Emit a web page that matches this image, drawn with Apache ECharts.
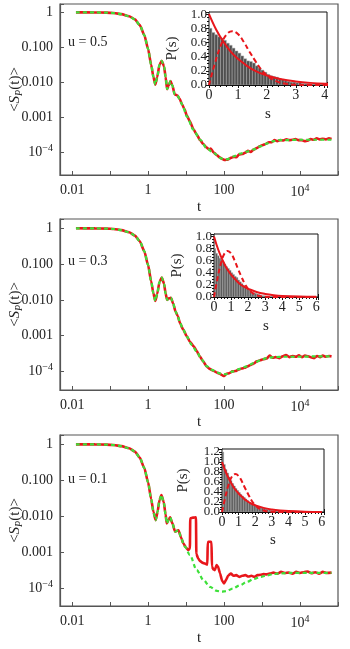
<!DOCTYPE html>
<html>
<head>
<meta charset="utf-8">
<script src="https://cdn.jsdelivr.net/npm/echarts@6/dist/echarts.min.js"></script>
<style>
  html, body { margin: 0; padding: 0; background: #fff; }
  #chart { width: 350px; height: 649px; }
</style>
</head>
<body>
<div id="chart"></div>
<script>
// readings are [log10 t, log10 <S_P(t)>]
const green1 = [[-1.9,0],[-1.4,-0.002],[-1.1,-0.008],[-0.9,-0.02],[-0.7,-0.05],[-0.5,-0.11],[-0.35,-0.2],[-0.22,-0.36],[-0.1,-0.65],[0,-1.05],[0.08,-1.5],[0.14,-1.85],[0.19,-2.07],[0.24,-1.85],[0.3,-1.5],[0.36,-1.39],[0.42,-1.55],[0.46,-1.85],[0.5,-2.2],[0.54,-2.1],[0.59,-1.97],[0.64,-2.1],[0.7,-2.35],[0.77,-2.38],[0.83,-2.48],[0.9,-2.65],[1.02,-2.98],[1.19,-3.36],[1.37,-3.65],[1.54,-3.89],[1.72,-4.03],[1.94,-4.19],[2.07,-4.21],[2.25,-4.13],[2.42,-4.05],[2.6,-3.99],[2.77,-3.93],[2.95,-3.84],[3.12,-3.76],[3.3,-3.69],[3.45,-3.66],[3.7,-3.66],[4.0,-3.65],[4.4,-3.65],[4.83,-3.65]];
const red1 = [[-1.9,0],[-1.4,-0.002],[-1.1,-0.008],[-0.9,-0.02],[-0.7,-0.05],[-0.5,-0.11],[-0.35,-0.2],[-0.22,-0.36],[-0.1,-0.65],[0,-1.05],[0.08,-1.5],[0.14,-1.85],[0.19,-2.07],[0.24,-1.85],[0.3,-1.5],[0.36,-1.39],[0.42,-1.55],[0.46,-1.85],[0.5,-2.2],[0.54,-2.1],[0.59,-1.97],[0.64,-2.1],[0.7,-2.35],[0.77,-2.38],[0.83,-2.48],[0.9,-2.65],[0.96,-2.78],[1.02,-2.96],[1.1,-3.12],[1.19,-3.34],[1.28,-3.5],[1.37,-3.66],[1.45,-3.77],[1.54,-3.87],[1.6,-3.93],[1.65,-3.9],[1.72,-4.01],[1.8,-4.08],[1.88,-4.15],[1.95,-4.2],[2.02,-4.23],[2.1,-4.22],[2.18,-4.17],[2.25,-4.14],[2.32,-4.15],[2.4,-4.07],[2.48,-4.06],[2.56,-4.02],[2.63,-3.97],[2.7,-4.0],[2.78,-3.93],[2.86,-3.89],[2.94,-3.84],[3.02,-3.8],[3.1,-3.77],[3.18,-3.72],[3.26,-3.72],[3.33,-3.66],[3.4,-3.69],[3.48,-3.66],[3.56,-3.67],[3.64,-3.64],[3.72,-3.66],[3.8,-3.65],[3.88,-3.63],[3.96,-3.66],[4.04,-3.66],[4.12,-3.69],[4.2,-3.68],[4.28,-3.63],[4.36,-3.65],[4.44,-3.61],[4.52,-3.64],[4.6,-3.62],[4.68,-3.64],[4.76,-3.61],[4.83,-3.63]];

const green2 = [[-1.9,0],[-1.4,-0.002],[-1.1,-0.008],[-0.9,-0.02],[-0.7,-0.05],[-0.5,-0.11],[-0.35,-0.2],[-0.22,-0.36],[-0.1,-0.64],[0,-1.03],[0.08,-1.48],[0.14,-1.82],[0.19,-2.03],[0.24,-1.83],[0.3,-1.5],[0.36,-1.38],[0.42,-1.55],[0.46,-1.82],[0.5,-2.0],[0.55,-1.96],[0.6,-1.94],[0.66,-2.1],[0.72,-2.32],[0.78,-2.45],[0.84,-2.65],[0.92,-2.82],[1.02,-3.03],[1.15,-3.26],[1.28,-3.45],[1.41,-3.67],[1.54,-3.85],[1.68,-3.96],[1.81,-4.03],[1.94,-4.07],[2.05,-4.08],[2.24,-4.0],[2.42,-3.93],[2.6,-3.86],[2.78,-3.77],[2.95,-3.69],[3.12,-3.63],[3.3,-3.6],[3.6,-3.59],[4.0,-3.59],[4.4,-3.58],[4.83,-3.58]];
const red2 = [[-1.9,0],[-1.4,-0.002],[-1.1,-0.008],[-0.9,-0.02],[-0.7,-0.05],[-0.5,-0.11],[-0.35,-0.2],[-0.22,-0.36],[-0.1,-0.64],[0,-1.03],[0.08,-1.48],[0.14,-1.82],[0.19,-2.03],[0.24,-1.83],[0.3,-1.5],[0.36,-1.38],[0.42,-1.55],[0.46,-1.82],[0.5,-2.0],[0.55,-1.96],[0.6,-1.94],[0.66,-2.1],[0.72,-2.32],[0.78,-2.45],[0.84,-2.65],[0.92,-2.82],[1.02,-3.02],[1.1,-3.17],[1.2,-3.3],[1.28,-3.43],[1.36,-3.58],[1.45,-3.72],[1.54,-3.86],[1.62,-3.93],[1.72,-3.98],[1.8,-4.03],[1.88,-4.06],[1.94,-4.1],[2.0,-4.13],[2.06,-4.07],[2.14,-4.05],[2.22,-4.0],[2.3,-3.99],[2.38,-3.95],[2.46,-3.92],[2.54,-3.9],[2.62,-3.86],[2.7,-3.82],[2.78,-3.78],[2.86,-3.72],[2.95,-3.69],[3.03,-3.66],[3.12,-3.64],[3.2,-3.56],[3.28,-3.62],[3.36,-3.6],[3.46,-3.63],[3.54,-3.58],[3.63,-3.54],[3.72,-3.6],[3.8,-3.57],[3.89,-3.59],[3.97,-3.55],[4.05,-3.6],[4.13,-3.56],[4.22,-3.58],[4.3,-3.61],[4.37,-3.63],[4.45,-3.57],[4.53,-3.6],[4.6,-3.56],[4.68,-3.59],[4.76,-3.57],[4.83,-3.58]];

const green3 = [[-1.9,0],[-1.4,-0.002],[-1.1,-0.008],[-0.9,-0.02],[-0.7,-0.05],[-0.5,-0.11],[-0.35,-0.2],[-0.22,-0.37],[-0.1,-0.66],[0,-1.06],[0.08,-1.52],[0.14,-1.88],[0.2,-2.11],[0.25,-1.87],[0.3,-1.55],[0.35,-1.41],[0.41,-1.6],[0.46,-1.95],[0.49,-2.2],[0.54,-2.1],[0.58,-2.03],[0.64,-2.2],[0.71,-2.43],[0.8,-2.39],[0.87,-2.6],[0.93,-2.76],[0.97,-2.85],[1.1,-3.08],[1.28,-3.5],[1.46,-3.78],[1.63,-3.97],[1.81,-4.08],[1.94,-4.1],[2.05,-4.09],[2.24,-4.01],[2.42,-3.92],[2.6,-3.83],[2.78,-3.75],[2.95,-3.69],[3.12,-3.65],[3.3,-3.61],[3.5,-3.59],[3.74,-3.58],[4.2,-3.58],[4.83,-3.58]];
const red3 = [[-1.9,0],[-1.4,-0.002],[-1.1,-0.008],[-0.9,-0.02],[-0.7,-0.05],[-0.5,-0.11],[-0.35,-0.2],[-0.22,-0.37],[-0.1,-0.66],[0,-1.06],[0.08,-1.52],[0.14,-1.88],[0.2,-2.11],[0.25,-1.87],[0.3,-1.55],[0.35,-1.41],[0.41,-1.6],[0.46,-1.95],[0.49,-2.2],[0.54,-2.1],[0.58,-2.03],[0.64,-2.2],[0.71,-2.43],[0.8,-2.39],[0.87,-2.6],[0.93,-2.76],[1.0,-2.88],[1.06,-2.94],[1.1,-2.9],[1.11,-2.06],[1.18,-2.04],[1.26,-2.03],[1.27,-3.05],[1.32,-3.18],[1.37,-3.25],[1.44,-3.3],[1.5,-3.32],[1.56,-3.35],[1.57,-2.72],[1.62,-2.71],[1.67,-2.72],[1.68,-3.4],[1.72,-3.48],[1.76,-3.5],[1.8,-3.36],[1.84,-3.4],[1.89,-3.58],[1.95,-3.8],[2.0,-3.87],[2.05,-3.78],[2.11,-3.65],[2.18,-3.6],[2.25,-3.66],[2.32,-3.64],[2.4,-3.69],[2.48,-3.66],[2.56,-3.64],[2.64,-3.68],[2.72,-3.66],[2.8,-3.69],[2.88,-3.64],[2.96,-3.63],[3.04,-3.61],[3.12,-3.62],[3.2,-3.6],[3.3,-3.57],[3.4,-3.6],[3.5,-3.55],[3.6,-3.58],[3.7,-3.57],[3.8,-3.6],[3.9,-3.55],[4.0,-3.58],[4.1,-3.56],[4.2,-3.54],[4.3,-3.59],[4.4,-3.56],[4.5,-3.6],[4.6,-3.55],[4.7,-3.58],[4.83,-3.57]];

// inset histograms, bins of width 0.1 starting at s = 0
const BIN = 0.1;
const hist1 = [0.80,0.74,0.71,0.68,0.66,0.63,0.59,0.56,0.52,0.48,0.45,0.41,0.37,0.34,0.33,0.31,0.27,0.24,0.21,0.18,0.15,0.13,0.12,0.11,0.09,0.08,0.06,0.05,0.04,0.04,0.03,0.03,0.02,0.02,0.02,0.01,0.01,0.01,0.005,0.005];
const hist2 = [0.80,0.72,0.68,0.64,0.61,0.58,0.54,0.50,0.47,0.44,0.40,0.37,0.34,0.32,0.28,0.25,0.22,0.19,0.16,0.14,0.12,0.10,0.08,0.07,0.06,0.05,0.04,0.03,0.02,0.02,0.01,0.01,0.01,0.005,0.005];
const hist3 = [1.20,0.95,0.85,0.78,0.70,0.63,0.57,0.52,0.47,0.43,0.39,0.35,0.32,0.29,0.26,0.23,0.20,0.18,0.16,0.14,0.12,0.11,0.10,0.09,0.08,0.07,0.06,0.05,0.04,0.03,0.03,0.02,0.02,0.01,0.01];

// reference curves in the insets, read at a few s values
const poisson = [[0,1.0],[0.25,0.78],[0.5,0.61],[0.75,0.47],[1,0.37],[1.25,0.29],[1.5,0.22],[1.75,0.17],[2,0.135],[2.5,0.082],[3,0.05],[3.5,0.03],[4,0.018],[5,0.007],[6,0.0025]];
const wigner = [[0,0],[0.2,0.3],[0.4,0.55],[0.6,0.71],[0.8,0.76],[1.0,0.72],[1.2,0.61],[1.4,0.47],[1.6,0.34],[1.8,0.22],[2.0,0.135],[2.2,0.078],[2.4,0.041],[2.6,0.02],[2.8,0.009],[3.0,0.004],[3.5,0.0003],[4,0],[5,0],[6,0]];

const uLabels = ['u = 0.5', 'u = 0.3', 'u = 0.1'];
const xTickText = { '-2': '0.01', '0': '1', '2': '100', '4': '10{sup|4}' };
const yTickText = { '0': '1', '-1': '0.100', '-2': '0.010', '-3': '0.001', '-4': '10{sup|\u22124}' };

const FONT = 'Liberation Serif';
const RED = '#e8161b';
const GREEN = '#3ee03a';
const FRAME = '#555';

const chart = echarts.init(document.getElementById('chart'), null, { renderer: 'canvas' });

const mainGrids = [
  { left: 60, top: 4, width: 278, height: 171, yMin: -4.66, yMax: 0.24 },
  { left: 60, top: 219, width: 278, height: 171, yMin: -4.52, yMax: 0.26 },
  { left: 60, top: 435, width: 278, height: 171, yMin: -4.5, yMax: 0.26 }
];
const insetGrids = [
  { left: 209, top: 12, width: 118, height: 73, xMax: 4.08, yMax: 1.03, gap: 29, sGap: 22 },
  { left: 214, top: 234, width: 104, height: 63, xMax: 6.1, yMax: 1.04, gap: 29, sGap: 22 },
  { left: 222, top: 449, width: 102, height: 63, xMax: 6.14, yMax: 1.26, gap: 31, sGap: 21 }
];

const pow = p => [Math.pow(10, p[0]), Math.pow(10, p[1])];
const isExp = v => {
  const l = Math.log10(v);
  return Math.abs(l - Math.round(l)) < 1e-6 ? String(Math.round(l)) : null;
};
const supRich = {
  sup: { fontFamily: FONT, fontSize: 10, color: '#222', padding: [0, 0, 8, 0] }
};

const grid = [], xAxis = [], yAxis = [], series = [], graphic = [];

mainGrids.forEach((g, i) => {
  grid.push({ left: g.left, top: g.top, width: g.width, height: g.height, show: true,
    containLabel: false, outerBoundsMode: 'none',
    borderColor: FRAME, borderWidth: 1.2, backgroundColor: 'transparent' });
  xAxis.push({
    type: 'log', gridIndex: i, min: Math.pow(10, -2.32), max: Math.pow(10, 5),
    name: 't', nameLocation: 'middle', nameGap: 22,
    nameTextStyle: { fontFamily: FONT, fontSize: 15, color: '#222' },
    axisLine: { lineStyle: { color: FRAME, width: 1.2 } },
    axisTick: { inside: true, length: 4, lineStyle: { color: FRAME } },
    splitLine: { show: false },
    axisLabel: {
      fontFamily: FONT, fontSize: 14, color: '#222', margin: 8, rich: supRich,
      formatter: v => { const e = isExp(v); return e !== null && xTickText[e] ? xTickText[e] : ''; }
    }
  });
  yAxis.push({
    type: 'log', gridIndex: i, min: Math.pow(10, g.yMin), max: Math.pow(10, g.yMax),
    name: '<{it|S}{sub|P}(t)>', nameLocation: 'middle', nameGap: 36, nameMoveOverlap: false,
    nameTextStyle: { fontFamily: FONT, fontSize: 15, color: '#222',
      rich: {
        it: { fontFamily: FONT, fontSize: 15, fontStyle: 'italic', color: '#222' },
        sub: { fontFamily: FONT, fontSize: 10, fontStyle: 'italic', color: '#222', padding: [7, 0, 0, 0] }
      } },
    axisLine: { lineStyle: { color: FRAME, width: 1.2 } },
    axisTick: { inside: true, length: 4, lineStyle: { color: FRAME } },
    splitLine: { show: false },
    axisLabel: {
      fontFamily: FONT, fontSize: 14, color: '#222', margin: 7, rich: supRich,
      formatter: v => { const e = isExp(v); return e !== null && yTickText[e] ? yTickText[e] : ''; }
    }
  });
  graphic.push({ type: 'text', left: 68, top: [35, 254, 472][i],
    style: { text: uLabels[i], font: '14px "Liberation Serif"', fill: '#222' } });
});

const insetLabel = { fontFamily: FONT, fontSize: 13, color: '#222', margin: 2, interval: 0, hideOverlap: false };

insetGrids.forEach((g, k) => {
  const gi = 3 + k;
  grid.push({ left: g.left, top: g.top, width: g.width, height: g.height, show: true,
    containLabel: false, outerBoundsMode: 'none',
    borderColor: '#111', borderWidth: 1, backgroundColor: '#fff', z: 5 });
  const tickStyle = { inside: true, length: 3, lineStyle: { color: '#111' } };
  const minor = { show: true, splitNumber: 5, length: 2, lineStyle: { color: '#111' } };
  xAxis.push({
    type: 'value', gridIndex: gi, min: 0, max: g.xMax, interval: 1,
    name: 's', nameLocation: 'middle', nameGap: g.sGap,
    nameTextStyle: { fontFamily: FONT, fontSize: 15, color: '#222' },
    axisLine: { lineStyle: { color: '#111' } }, axisTick: tickStyle, minorTick: minor,
    splitLine: { show: false },
    axisLabel: { fontFamily: FONT, fontSize: 14, color: '#222', margin: 3, interval: 0,
      showMinLabel: true, hideOverlap: false,
      formatter: v => Math.abs(v - Math.round(v)) < 1e-6 ? String(Math.round(v)) : '' }
  });
  // main inset y axis: labels 0.2 and up (the 0.0 label sits on a twin axis so
  // the crowded bottom pair is not thinned out)
  yAxis.push({
    type: 'value', gridIndex: gi, min: 0, max: g.yMax, interval: 0.2,
    name: 'P(s)', nameLocation: 'middle', nameGap: g.gap,
    nameTextStyle: { fontFamily: FONT, fontSize: 15, color: '#222' },
    axisLine: { lineStyle: { color: '#111' } }, axisTick: tickStyle, minorTick: minor,
    splitLine: { show: false },
    axisLabel: Object.assign({}, insetLabel, { showMinLabel: false,
      formatter: v => v > 0.1 && Math.abs(v * 5 - Math.round(v * 5)) < 1e-6 ? v.toFixed(1) : '' })
  });
});

// mirrored tick axes on the top / right of the insets
insetGrids.forEach((g, k) => {
  const gi = 3 + k;
  xAxis.push({ type: 'value', gridIndex: gi, position: 'top', min: 0, max: g.xMax, interval: 1,
    axisLine: { show: false }, axisLabel: { show: false }, splitLine: { show: false },
    axisTick: { inside: true, length: 3, lineStyle: { color: '#111' } },
    minorTick: { show: true, splitNumber: 5, length: 2, lineStyle: { color: '#111' } } });
  yAxis.push({ type: 'value', gridIndex: gi, position: 'right', min: 0, max: g.yMax, interval: 0.2,
    axisLine: { show: false }, axisLabel: { show: false }, splitLine: { show: false },
    axisTick: { inside: true, length: 3, lineStyle: { color: '#111' } },
    minorTick: { show: true, splitNumber: 4, length: 2, lineStyle: { color: '#111' } } });
});

// twin left axes that only carry the 0.0 label
insetGrids.forEach((g, k) => {
  const gi = 3 + k;
  yAxis.push({ type: 'value', gridIndex: gi, position: 'left', min: 0, max: g.yMax, interval: 0.2,
    axisLine: { show: false }, axisTick: { show: false }, splitLine: { show: false },
    axisLabel: Object.assign({}, insetLabel, { showMinLabel: true, showMaxLabel: false,
      formatter: v => Math.abs(v) < 1e-6 ? '0.0' : '' }) });
});

[[red1, green1], [red2, green2], [red3, green3]].forEach(([r, gr], i) => {
  series.push({
    type: 'line', xAxisIndex: i, yAxisIndex: i, data: r.map(pow), showSymbol: false,
    smooth: 0.2, smoothMonotone: 'x', lineStyle: { color: RED, width: 2.6 }, z: 2
  });
  series.push({
    type: 'line', xAxisIndex: i, yAxisIndex: i, data: gr.map(pow), showSymbol: false,
    smooth: 0.3, smoothMonotone: 'x', lineStyle: { color: GREEN, width: 2.2, type: [4, 3] }, z: 3
  });
});

[hist1, hist2, hist3].forEach((h, k) => {
  const ai = 3 + k;
  series.push({
    type: 'custom', xAxisIndex: ai, yAxisIndex: ai, z: 6, clip: true,
    data: h.map((v, j) => [j * BIN, v]),
    renderItem: (params, api) => {
      const p0 = api.coord([api.value(0), api.value(1)]);
      const p1 = api.coord([api.value(0) + BIN, 0]);
      return { type: 'rect',
        shape: { x: p0[0], y: p0[1], width: p1[0] - p0[0], height: p1[1] - p0[1] },
        style: { fill: '#4f4f4f', stroke: '#aaa', lineWidth: 0.5 } };
    }
  });
  series.push({
    type: 'line', xAxisIndex: ai, yAxisIndex: ai, z: 7, data: poisson, showSymbol: false,
    smooth: 0.4, lineStyle: { color: RED, width: 2 }
  });
  series.push({
    type: 'line', xAxisIndex: ai, yAxisIndex: ai, z: 7, data: wigner, showSymbol: false,
    smooth: 0.4, lineStyle: { color: RED, width: 2, type: [5, 3] }
  });
});

chart.setOption({ animation: false, grid, xAxis, yAxis, series, graphic });
</script>
</body>
</html>
